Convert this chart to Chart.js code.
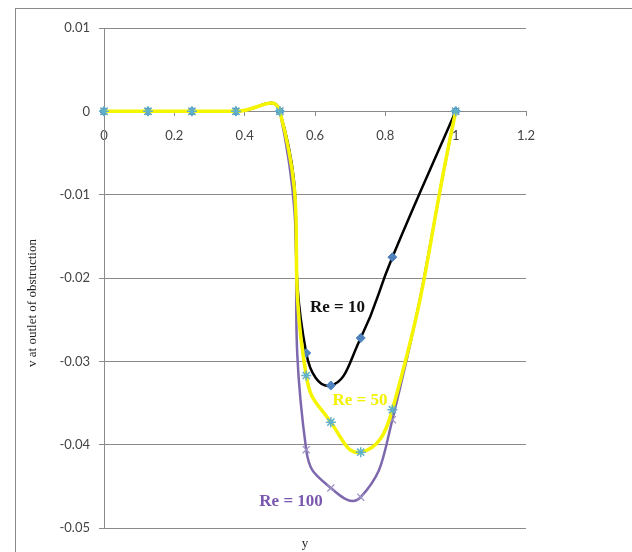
<!DOCTYPE html>
<html>
<head>
<meta charset="utf-8">
<script src="https://cdn.jsdelivr.net/npm/chart.js@4/dist/chart.umd.min.js"></script>
<style>
  html, body { margin: 0; padding: 0; background: #fff; overflow: hidden; }
  #wrap { position: relative; width: 632px; height: 552px; }
  #frame {
    position: absolute; left: 15px; top: 8px; width: 640px; height: 560px;
    border-left: 1px solid #8a8a8a; border-top: 1px solid #8a8a8a;
  }
  #plot { position: absolute; left: 0; top: 0; }
</style>
</head>
<body>
<div id="wrap">
  <div id="frame"></div>
  <canvas id="plot" width="632" height="552"></canvas>
</div>
<script>
// y positions across the outlet (shared by all three runs)
const yPos = [0, 0.125, 0.25, 0.375, 0.5, 0.575, 0.645, 0.73, 0.82, 1];

// v at outlet of obstruction for each Reynolds number
const vRe10  = [0, 0, 0, 0, 0, -0.029,  -0.0329, -0.0272, -0.0175, 0];
const vRe50  = [0, 0, 0, 0, 0, -0.0317, -0.0373, -0.0409, -0.0358, 0];
const vRe100 = [0, 0, 0, 0, 0, -0.0406, -0.0452, -0.0463, -0.037,  0];

// axis ticks
const xTicks = [0, 0.2, 0.4, 0.6, 0.8, 1, 1.2];
const yTicks = [0.01, 0, -0.01, -0.02, -0.03, -0.04, -0.05];

// curve labels, anchored in data coordinates
const curveLabels = [
  { text: 'Re = 10',  x: 0.664, y: -0.0236, color: '#111111' },
  { text: 'Re = 50',  x: 0.728, y: -0.0347, color: '#f2f200' },
  { text: 'Re = 100', x: 0.532, y: -0.0468, color: '#7a58b0' }
];

const GRID = '#8a8a8a';
const SERIF = '"Liberation Serif", "DejaVu Serif", serif';

const toPts = vals => vals.map((v, i) => ({ x: yPos[i], y: v }));

// draws the curve labels and both axis titles
const textPlugin = {
  id: 'textPlugin',
  afterDatasetsDraw(chart) {
    const ctx = chart.ctx;
    const xs = chart.scales.x, ys = chart.scales.y;
    const area = chart.chartArea;
    ctx.save();
    ctx.textAlign = 'center';
    ctx.textBaseline = 'middle';
    ctx.font = 'bold 17px ' + SERIF;
    curveLabels.forEach(l => {
      ctx.fillStyle = l.color;
      ctx.fillText(l.text, xs.getPixelForValue(l.x), ys.getPixelForValue(l.y));
    });

    ctx.fillStyle = '#222';
    ctx.font = '13px ' + SERIF;
    ctx.fillText('y', area.left + 201, area.bottom + 16);

    ctx.translate(33, 303);
    ctx.rotate(-Math.PI / 2);
    ctx.fillText('v at outlet of obstruction', 0, 0);
    ctx.restore();
  }
};

const tickFont = { family: 'Lato, "Liberation Sans", sans-serif', size: 13 };

new Chart(document.getElementById('plot'), {
  type: 'line',
  data: {
    datasets: [
      {
        label: 'Re = 50', data: toPts(vRe50), order: 0,
        borderColor: '#f5f500', borderWidth: 3.5, tension: 0.5,
        pointStyle: 'star', pointRadius: 5, pointBorderWidth: 1.5,
        pointBorderColor: '#5fb0c8', pointBackgroundColor: '#5fb0c8', clip: false
      },
      {
        label: 'Re = 10', data: toPts(vRe10), order: 1,
        borderColor: '#000000', borderWidth: 2.5, tension: 0.5,
        pointStyle: 'rectRot', pointRadius: 4.5, pointBorderWidth: 1,
        pointBorderColor: '#4f81bd', pointBackgroundColor: '#4f81bd', clip: false
      },
      {
        label: 'Re = 100', data: toPts(vRe100), order: 2,
        borderColor: '#7d68ad', borderWidth: 2.5, tension: 0.5,
        pointStyle: 'crossRot', pointRadius: 5, pointBorderWidth: 1.2,
        pointBorderColor: '#9c90c4', pointBackgroundColor: '#9c90c4', clip: false
      }
    ]
  },
  options: {
    responsive: false,
    animation: false,
    devicePixelRatio: 1,
    layout: { padding: { left: 0, right: 106, top: 28, bottom: 24 } },
    plugins: { legend: { display: false }, tooltip: { enabled: false } },
    scales: {
      x: {
        type: 'linear', position: { y: 0 }, min: 0, max: 1.2,
        afterBuildTicks: s => { s.ticks = xTicks.map(v => ({ value: v })); },
        ticks: { font: tickFont, color: '#444', padding: 13, maxRotation: 0,
                 callback: v => String(+v.toFixed(2)) },
        grid: { drawOnChartArea: false, drawTicks: true, tickLength: 4, color: GRID },
        border: { display: true, color: GRID, width: 1 }
      },
      y: {
        type: 'linear', position: 'left', min: -0.05, max: 0.01,
        afterBuildTicks: s => { s.ticks = yTicks.map(v => ({ value: v })); },
        afterFit: s => { s.width = 104; },
        ticks: { font: tickFont, color: '#444', padding: 9,
                 callback: v => String(+v.toFixed(3)) },
        grid: { color: GRID, lineWidth: 1, drawTicks: true, tickLength: 5 },
        border: { display: true, color: GRID, width: 1 }
      }
    }
  },
  plugins: [textPlugin]
});
</script>
</body>
</html>
